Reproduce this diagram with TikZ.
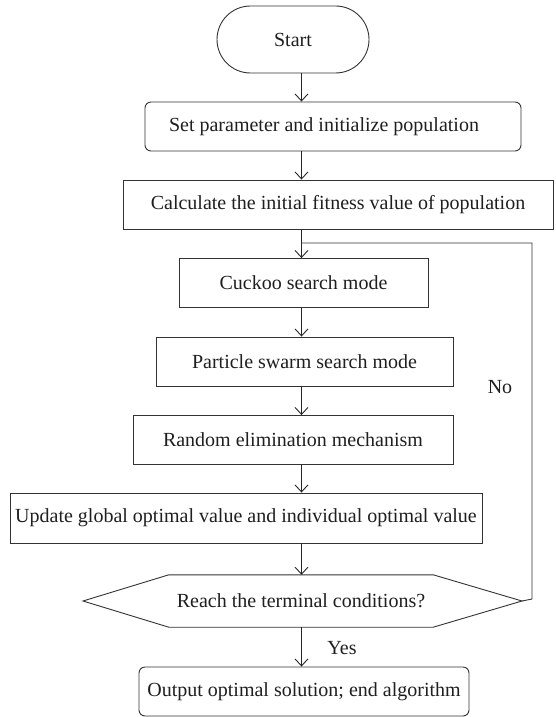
\documentclass[tikz,border=0pt]{standalone}
\usepackage{fontspec}
\setmainfont{Liberation Serif}
\usetikzlibrary{arrows.meta,shapes.misc,calc}
\begin{document}
\begin{tikzpicture}[x=1pt,y=-1pt,
  every node/.style={font=\fontsize{20}{24}\selectfont, text=black!88},
  boxa/.style={draw=black!80, line width=0.9pt, rectangle, inner sep=0pt, minimum height=49pt},
  rboxa/.style={boxa, rounded corners=6pt},
  startbox/.style={draw=black!80, line width=0.9pt, rounded rectangle, inner sep=0pt, minimum width=152pt, minimum height=67pt},
  arr/.style={draw=black!85, line width=0.9pt, -{Straight Barb[length=7pt,width=13pt]}},
  ln/.style={draw=black!80, line width=0.9pt},
  lbl/.style={inner sep=0pt}
]
\useasboundingbox (0,0) rectangle (556,717);
\fill[white] (0,0) rectangle (556,717);

\coordinate (ax) at (301.5,0);

\node[startbox] (start) at (293,39.5) {Start};
\node[rboxa, minimum width=376pt, label={[lbl,xshift=-9pt]center:Set parameter and initialize population}] (set) at (333,126.5) {};
\node[boxa, minimum width=430pt] (calc) at (338,204.5) {Calculate the initial fitness value of population};
\node[boxa, minimum width=249pt] (cuckoo) at (303.5,283) {Cuckoo search mode};
\node[boxa, minimum width=297pt] (pso) at (304.5,361.5) {Particle swarm search mode};
\node[boxa, minimum width=320pt] (rand) at (293,440) {Random elimination mechanism};
\node[boxa, minimum width=472pt, minimum height=50pt] (upd) at (246,518) {Update global optimal value and individual optimal value};

% decision hexagon
\node[inner sep=0pt, minimum width=264pt, minimum height=52pt] (hex) at (301,601) {Reach the terminal conditions?};
\coordinate (hexL) at (83,601);
\coordinate (hexR) at (522,601);
\draw[ln] (hexL) -- (hex.north west) -- (hex.north east) -- (hexR) -- (hex.south east) -- (hex.south west) -- cycle;

\node[rboxa, minimum width=330pt] (out) at (304,691.5) {Output optimal solution; end algorithm};

% loop
\coordinate (loopR) at (532,599);
\coordinate (loopT) at (532,243);
\coordinate (join) at (301.5,243);
\draw[ln] (hexR) -- (loopR) -- (loopT) -- (join);

% arrows
\draw[arr] (ax |- start.south) -- (ax |- set.north);
\draw[arr] (ax |- set.south) -- (ax |- calc.north);
\draw[arr] (ax |- calc.south) -- (ax |- cuckoo.north);
\draw[arr] (ax |- cuckoo.south) -- (ax |- pso.north);
\draw[arr] (ax |- pso.south) -- (ax |- rand.north);
\draw[arr] (ax |- rand.south) -- (ax |- upd.north);
\draw[arr] (ax |- upd.south) -- (ax |- hex.north);
\draw[arr] (ax |- hex.south) -- (ax |- out.north);

\node[lbl] (yes) at (342,648) {Yes};
\node[lbl] (no) at (500,387) {No};
\end{tikzpicture}
\end{document}
